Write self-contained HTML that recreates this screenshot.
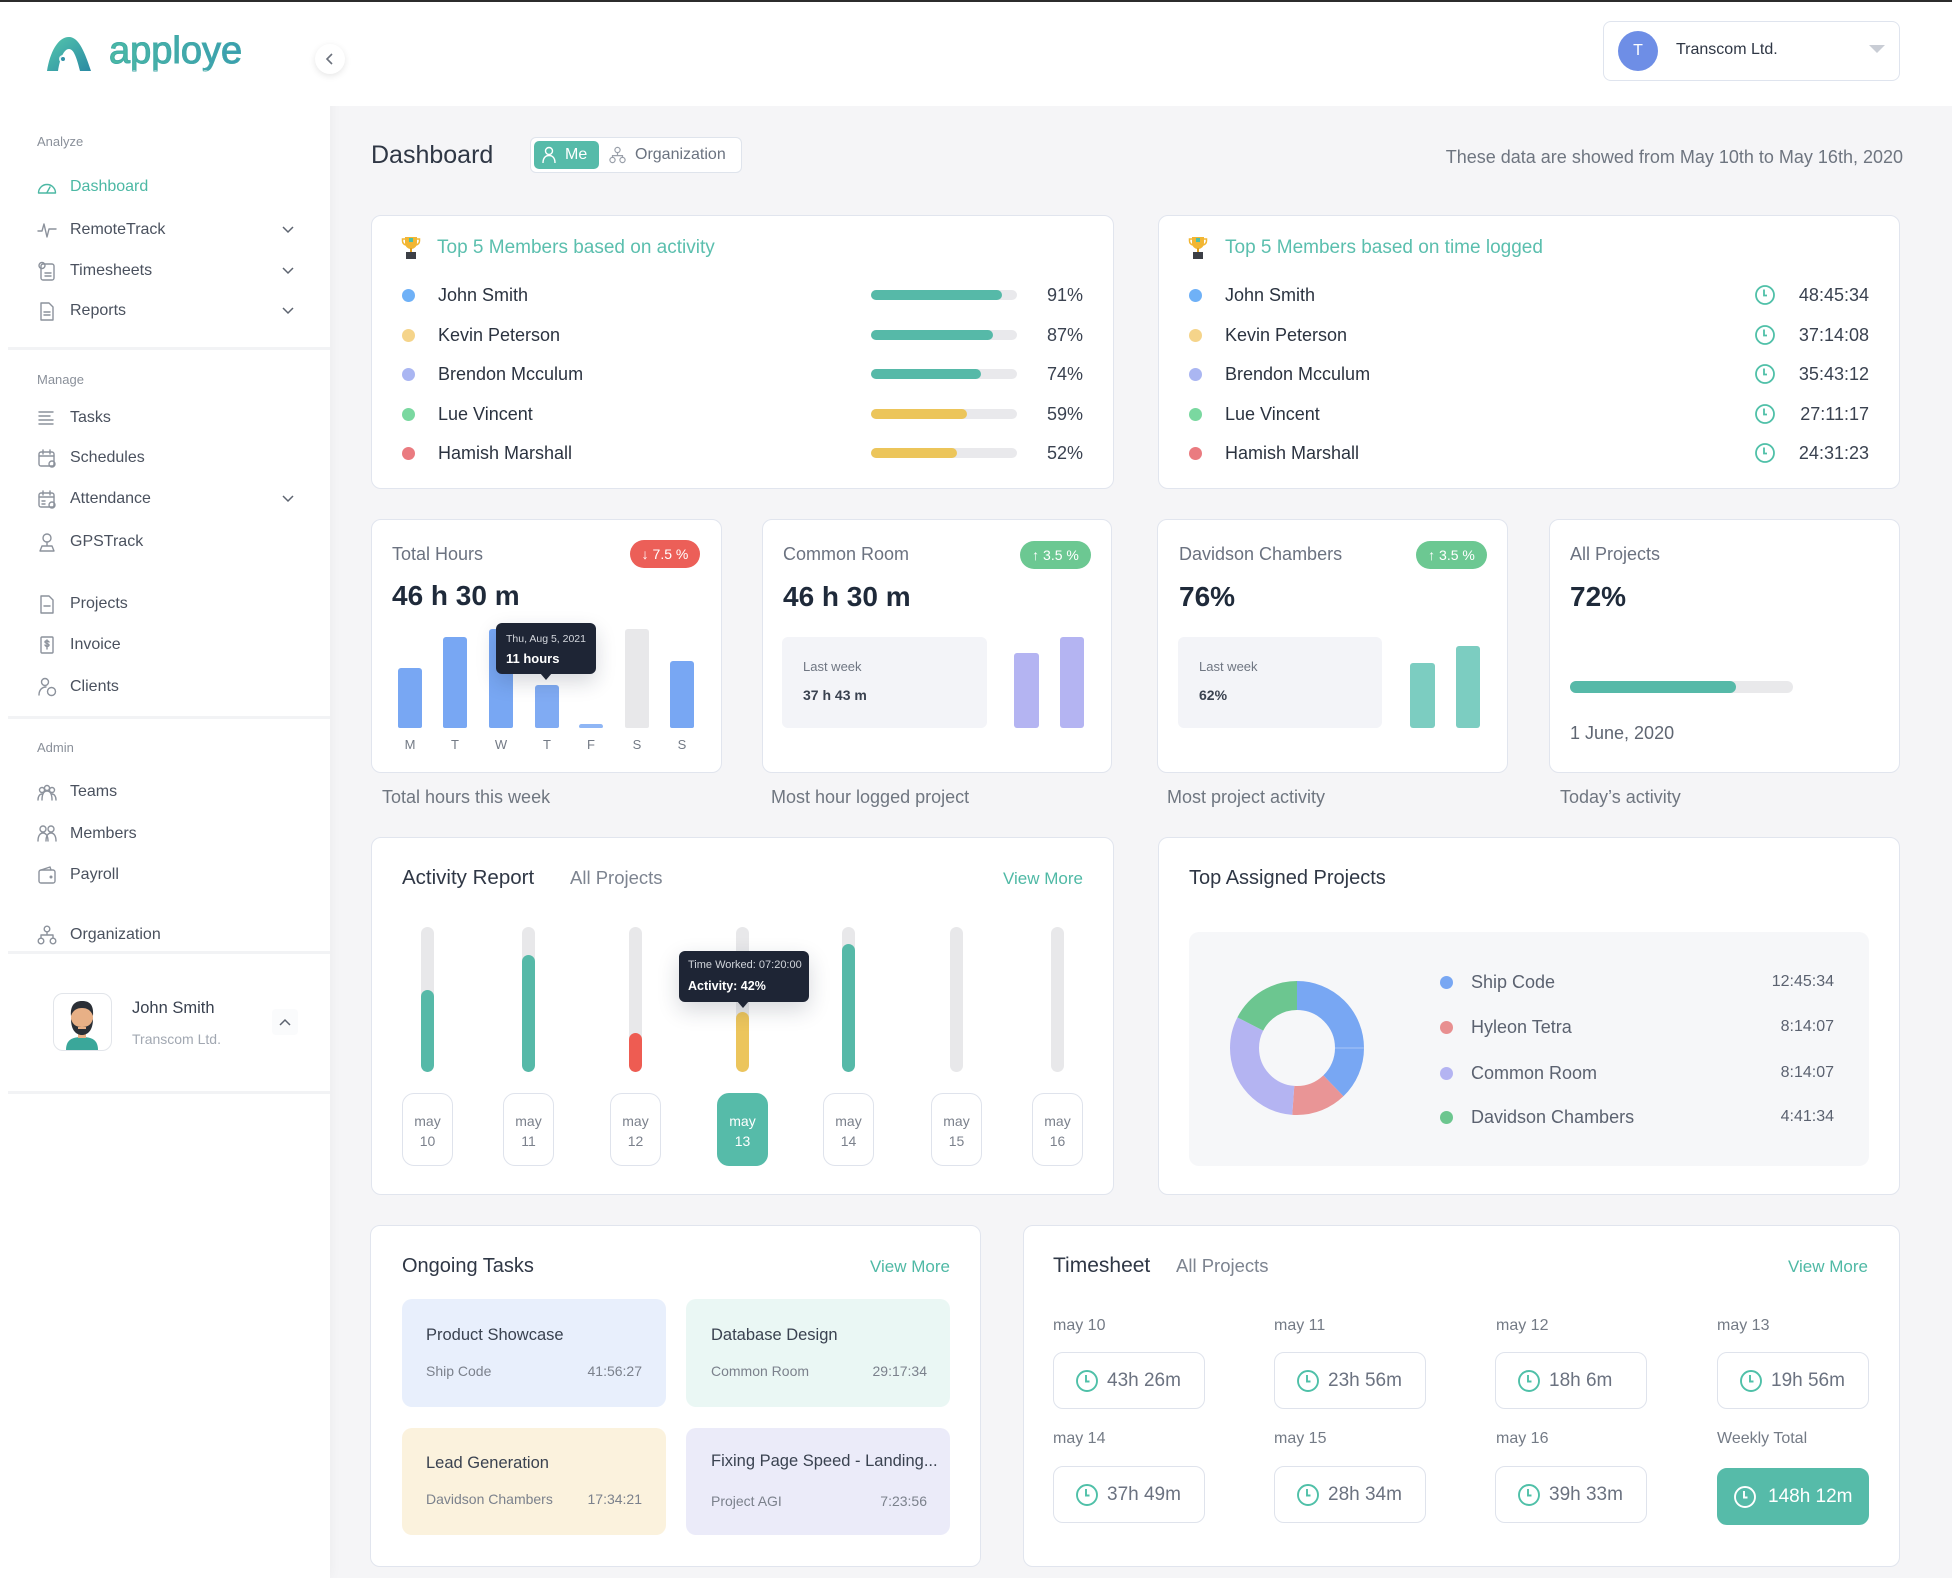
<!DOCTYPE html>
<html><head><meta charset="utf-8">
<style>
*{box-sizing:border-box}
body{margin:0;width:1952px;height:1578px;position:relative;overflow:hidden;background:#f5f5f7;font-family:"Liberation Sans",Arial,sans-serif;color:#2b3340}
.a{position:absolute}
.t{position:absolute;white-space:nowrap;line-height:1}
.card{position:absolute;background:#fff;border:1.5px solid #e1e5ee;border-radius:10px}
.si{position:absolute;left:37px;width:20px;height:20px;fill:none;stroke:#8c929c;stroke-width:1.4;stroke-linecap:round;stroke-linejoin:round}
.sl{position:absolute;left:70px;font-size:16px;line-height:1;color:#4a515e;white-space:nowrap}
.sec{position:absolute;left:37px;font-size:13px;line-height:1;color:#8a909a}
.chev{position:absolute;left:282px;width:12px;height:8px;fill:none;stroke:#5d6470;stroke-width:1.5}
.div{position:absolute;left:8px;width:322px;height:3px;background:#f2f3f5}
.dot{position:absolute;width:13px;height:13px;border-radius:50%}
.bar{position:absolute;height:10px;border-radius:5px;background:#e9e9ec;left:871px;width:146px}
.bar i{position:absolute;left:0;top:0;height:10px;border-radius:5px;background:#56b9a8}
.nm{position:absolute;font-size:18px;line-height:1;color:#2b3340;white-space:nowrap}
.pc{position:absolute;font-size:18px;line-height:1;color:#3a4250;right:869px;white-space:nowrap}
.badge{position:absolute;height:28px;border-radius:14px;color:#fff;font-size:14px;line-height:28px;text-align:center}
.ttl{position:absolute;font-size:18px;line-height:1;color:#6b7280;white-space:nowrap}
.big{position:absolute;font-size:28px;font-weight:bold;line-height:1;color:#1f2a3a;white-space:nowrap}
.cap{position:absolute;font-size:18px;line-height:1;color:#6f7680;white-space:nowrap;top:788px}
.hb{position:absolute;width:24px;border-radius:3px 3px 2px 2px;background:#78a7f3}
.dl{position:absolute;width:24px;text-align:center;font-size:13px;line-height:1;color:#737a85;top:738px}
.trk{position:absolute;width:13px;top:927px;height:145px;border-radius:7px;background:#e8e8ea;overflow:hidden}
.trk i{position:absolute;left:0;bottom:0;width:13px;border-radius:7px}
.db{position:absolute;width:51px;top:1093px;height:73px;border:1.5px solid #dfe3ec;border-radius:12px;background:#fff;text-align:center;color:#7b818c;font-size:14px;line-height:1}
.db span{position:absolute;left:0;right:0}
.vm{position:absolute;font-size:17px;line-height:1;color:#4fb9a5;white-space:nowrap}
.h2{position:absolute;font-size:20.5px;line-height:1;color:#2f3745;white-space:nowrap}
.h2g{position:absolute;font-size:18.5px;line-height:1;color:#7d8490;white-space:nowrap}
.lg{position:absolute;font-size:18px;line-height:1;color:#5b6270;white-space:nowrap;left:1471px}
.lt{position:absolute;font-size:16px;line-height:1;color:#5b6270;white-space:nowrap;right:118px}
.task{position:absolute;width:264px;border-radius:10px}
.tk1{position:absolute;font-size:16.5px;line-height:1;color:#3a4250;white-space:nowrap}
.tk2{position:absolute;font-size:14px;line-height:1;color:#7b818c;white-space:nowrap}
.tsl{position:absolute;font-size:16px;line-height:1;color:#747b86;white-space:nowrap}
.tsb{position:absolute;width:152px;height:57px;border:1.5px solid #dfe3ec;border-radius:10px;background:#fff}
.tsb svg{position:absolute;left:21px;top:16px}
.tsb span{position:absolute;left:53px;top:18px;font-size:19px;line-height:1;color:#6b7280;white-space:nowrap}
</style></head>
<body>

<!-- sidebar & header backgrounds -->
<div class="a" style="left:0;top:0;width:330px;height:1578px;background:#fff;box-shadow:2px 0 10px rgba(0,0,0,0.035)"></div>
<div class="a" style="left:330px;top:0;width:1622px;height:106px;background:#fff"></div>
<div class="a" style="left:0;top:0;width:1952px;height:2px;background:#2c2c2c"></div>

<!-- logo -->
<svg class="a" style="left:46px;top:36px" width="46" height="36" viewBox="0 0 46 36">
<defs><linearGradient id="lg1" x1="0" y1="0" x2="1" y2="1"><stop offset="0" stop-color="#55c7ad"/><stop offset="1" stop-color="#2a8aa3"/></linearGradient></defs>
<path d="M1 35 C4 16 12 1 23 1 C33 1 39 17 45 35 L34 35 C31 23 28 13 23 13 C18 13 14 22 12 35 Z" fill="url(#lg1)"/>
<circle cx="17" cy="23" r="4" fill="#fff" opacity="0.85"/>
<circle cx="17" cy="23" r="2" fill="#2f8fa6"/>
</svg>
<div class="t" style="left:109px;top:32px;font-size:38px;background:linear-gradient(90deg,#4bbba3,#3a9bb3);-webkit-background-clip:text;background-clip:text;color:transparent;-webkit-text-stroke:0.9px #42aaa8">apploye</div>

<!-- collapse -->
<div class="a" style="left:315px;top:44px;width:30px;height:30px;border-radius:50%;background:#fff;box-shadow:0 2px 7px rgba(0,0,0,0.1)"></div>
<svg class="a" style="left:325px;top:52px" width="10" height="14"><path d="M7 2 L2 7 L7 12" fill="none" stroke="#6b717c" stroke-width="1.6"/></svg>

<!-- sidebar -->
<div class="sec" style="top:135px">Analyze</div>
<svg class="si" style="top:177px;stroke:#4cb8a4" viewBox="0 0 20 20"><path d="M1.5 16 A8.5 8.5 0 0 1 18.5 16 Z"/><path d="M10 15.5 L13 10"/></svg>
<div class="sl" style="top:179px;color:#4cb8a4">Dashboard</div>
<svg class="si" style="top:220px" viewBox="0 0 20 20"><path d="M1 11 H5 L7 4 L10 17 L12 9 H19"/></svg>
<div class="sl" style="top:222px">RemoteTrack</div>
<svg class="chev" style="top:226px"><path d="M1 1 L6 6 L11 1"/></svg>
<svg class="si" style="top:261px" viewBox="0 0 20 20"><rect x="4" y="3" width="13" height="16" rx="2"/><circle cx="5" cy="4.5" r="3"/><path d="M8 12h6M8 15h6"/></svg>
<div class="sl" style="top:263px">Timesheets</div>
<svg class="chev" style="top:267px"><path d="M1 1 L6 6 L11 1"/></svg>
<svg class="si" style="top:301px" viewBox="0 0 20 20"><path d="M4 2h8l4 4v13H4z"/><path d="M7 11h6M7 14h6"/></svg>
<div class="sl" style="top:303px">Reports</div>
<svg class="chev" style="top:307px"><path d="M1 1 L6 6 L11 1"/></svg>
<div class="div" style="top:347px"></div>

<div class="sec" style="top:373px">Manage</div>
<svg class="si" style="top:408px" viewBox="0 0 20 20"><path d="M2 4h14M2 8h11M2 12h14M2 16h14"/></svg>
<div class="sl" style="top:410px">Tasks</div>
<svg class="si" style="top:448px" viewBox="0 0 20 20"><rect x="2" y="4" width="15" height="14" rx="2"/><path d="M2 8h15M6 2v4M13 2v4"/><circle cx="15" cy="16" r="3"/></svg>
<div class="sl" style="top:450px">Schedules</div>
<svg class="si" style="top:489px" viewBox="0 0 20 20"><rect x="2" y="4" width="15" height="14" rx="2"/><path d="M2 8h15M6 2v4M13 2v4M5 12h3M5 15h3"/><circle cx="15" cy="16" r="3"/></svg>
<div class="sl" style="top:491px">Attendance</div>
<svg class="chev" style="top:495px"><path d="M1 1 L6 6 L11 1"/></svg>
<svg class="si" style="top:532px" viewBox="0 0 20 20"><circle cx="10" cy="6" r="4"/><path d="M10 10v3M3 19l2-5h10l2 5z"/></svg>
<div class="sl" style="top:534px">GPSTrack</div>

<svg class="si" style="top:594px" viewBox="0 0 20 20"><path d="M4 2h8l4 4v13H4z"/><path d="M7 12h6"/></svg>
<div class="sl" style="top:596px">Projects</div>
<svg class="si" style="top:635px" viewBox="0 0 20 20"><rect x="4" y="2" width="12" height="16" rx="1"/><path d="M12 7c-1-1.5-4-1.5-4 0s4 1.5 4 3-3 2-4 0M10 5v9"/></svg>
<div class="sl" style="top:637px">Invoice</div>
<svg class="si" style="top:677px" viewBox="0 0 20 20"><circle cx="8" cy="5" r="3.5"/><path d="M2 18c0-5 3-8 7-8"/><circle cx="14.5" cy="14.5" r="4"/></svg>
<div class="sl" style="top:679px">Clients</div>
<div class="div" style="top:716px"></div>

<div class="sec" style="top:741px">Admin</div>
<svg class="si" style="top:782px" viewBox="0 0 20 20"><circle cx="5" cy="8" r="2.5"/><circle cx="10" cy="6" r="2.5"/><circle cx="15" cy="8" r="2.5"/><path d="M1 18c0-4 2-6 4-6M10 9c-3 0-5 3-5 9M10 9c3 0 5 3 5 9M19 18c0-4-2-6-4-6"/></svg>
<div class="sl" style="top:784px">Teams</div>
<svg class="si" style="top:824px" viewBox="0 0 20 20"><circle cx="6" cy="5" r="3"/><circle cx="14" cy="5" r="3"/><path d="M1 17c0-5 2-8 5-8s5 3 5 8M9 17c0-5 2-8 5-8s5 3 5 8"/></svg>
<div class="sl" style="top:826px">Members</div>
<svg class="si" style="top:865px" viewBox="0 0 20 20"><rect x="2" y="5" width="16" height="13" rx="2"/><path d="M4 5l9-3 1 3"/><circle cx="14" cy="12" r="0.8"/></svg>
<div class="sl" style="top:867px">Payroll</div>
<svg class="si" style="top:925px" viewBox="0 0 20 20"><circle cx="10" cy="4" r="2.8"/><circle cx="4" cy="16" r="2.8"/><circle cx="16" cy="16" r="2.8"/><path d="M10 7v3M4 13v-3h12v3"/></svg>
<div class="sl" style="top:927px">Organization</div>
<div class="div" style="top:951px"></div>

<!-- user card -->
<div class="a" style="left:53px;top:993px;width:59px;height:58px;border:1.5px solid #e2e5ea;border-radius:10px;background:#fff;overflow:hidden">
<svg width="56" height="56" viewBox="0 0 56 56">
<path d="M12 56 C12 46 18 43 28 43 C38 43 44 46 44 56Z" fill="#3aa79a"/>
<rect x="24" y="36" width="8" height="8" fill="#e8b086"/>
<ellipse cx="28" cy="24" rx="11" ry="13" fill="#e8b086"/>
<path d="M17 22 C16 10 22 7 28 7 C35 7 40 10 39 22 C37 16 33 14 28 14 C23 14 19 16 17 22Z" fill="#2b2f36"/>
<path d="M17 25 C17 36 22 41 28 41 C34 41 39 36 39 25 C37 31 34 33 28 33 C22 33 19 31 17 25Z" fill="#2b2f36"/>
<rect x="24" y="33" width="8" height="2" fill="#e8b086"/>
</svg></div>
<div class="t" style="left:132px;top:1000px;font-size:16.5px;color:#3a4250">John Smith</div>
<div class="t" style="left:132px;top:1032px;font-size:14px;color:#a2a8b2">Transcom Ltd.</div>
<div class="a" style="left:272px;top:1009px;width:26px;height:26px;background:#fafbfc;border-radius:4px"></div>
<svg class="a" style="left:279px;top:1018px" width="12" height="8"><path d="M1 7 L6 2 L11 7" fill="none" stroke="#5d6470" stroke-width="1.5"/></svg>
<div class="div" style="top:1091px"></div>

<!-- header right -->
<div class="a" style="left:1603px;top:21px;width:297px;height:60px;border:1.5px solid #dfe4ee;border-radius:8px;background:#fff"></div>
<div class="a" style="left:1618px;top:31px;width:40px;height:40px;border-radius:50%;background:#6e8ee6;color:#fff;font-size:16px;line-height:40px;text-align:center">T</div>
<div class="t" style="left:1676px;top:42px;font-size:16px;color:#2e3644">Transcom Ltd.</div>
<div class="a" style="left:1869px;top:45px;width:0;height:0;border-left:8.5px solid transparent;border-right:8.5px solid transparent;border-top:8px solid #c9cdd5"></div>

<!-- dashboard header -->
<div class="t" style="left:371px;top:143px;font-size:25px;color:#2f3745">Dashboard</div>
<div class="a" style="left:530px;top:137px;width:212px;height:36px;border:1.5px solid #dfe4ec;border-radius:6px;background:#fff"></div>
<div class="a" style="left:534px;top:141px;width:65px;height:28px;border-radius:5px;background:#56bba9"></div>
<svg class="a" style="left:542px;top:146px" width="14" height="18" viewBox="0 0 14 18"><circle cx="7" cy="5" r="3.5" fill="none" stroke="#fff" stroke-width="1.4"/><path d="M1 17c0-5 2.5-7.5 6-7.5s6 2.5 6 7.5" fill="none" stroke="#fff" stroke-width="1.4"/></svg>
<div class="t" style="left:565px;top:147px;font-size:16px;color:#fff">Me</div>
<svg class="a" style="left:609px;top:146px" width="17" height="18" viewBox="0 0 17 18"><circle cx="8.5" cy="4" r="2.6" fill="none" stroke="#9aa0aa" stroke-width="1.2"/><circle cx="3.5" cy="14" r="2.6" fill="none" stroke="#9aa0aa" stroke-width="1.2"/><circle cx="13.5" cy="14" r="2.6" fill="none" stroke="#9aa0aa" stroke-width="1.2"/><path d="M8.5 6.6v3M3.5 11.4V9.6h10v1.8" fill="none" stroke="#9aa0aa" stroke-width="1.2"/></svg>
<div class="t" style="left:635px;top:147px;font-size:16px;color:#6b7380">Organization</div>
<div class="t" style="right:49px;top:148px;font-size:18px;color:#6e7580">These data are showed from May 10th to May 16th, 2020</div>

<!-- card 1 -->
<div class="card" style="left:371px;top:215px;width:743px;height:274px"></div>
<svg class="a" style="left:401px;top:236px" width="20" height="24" viewBox="0 0 20 24"><path d="M4 1h12v6a6 6 0 0 1-12 0z" fill="#f2b632"/><path d="M4 3H1.5v2a4 4 0 0 0 4 4M16 3h2.5v2a4 4 0 0 1-4 4" stroke="#f2b632" fill="none" stroke-width="1.5"/><rect x="9" y="12" width="2" height="4" fill="#e0a020"/><rect x="5" y="16" width="10" height="7" fill="#3c3f46"/><rect x="8" y="2" width="4" height="4" fill="#4fbfa5"/></svg>
<div class="t" style="left:437px;top:238px;font-size:19px;color:#5bbfae">Top 5 Members based on activity</div>

<div class="dot" style="left:402px;top:289px;background:#6fb1f7"></div>
<div class="nm" style="left:438px;top:286px">John Smith</div>
<div class="bar" style="top:290px"><i style="width:131px"></i></div>
<div class="pc" style="top:286px">91%</div>

<div class="dot" style="left:402px;top:329px;background:#f5d48a"></div>
<div class="nm" style="left:438px;top:326px">Kevin Peterson</div>
<div class="bar" style="top:330px"><i style="width:122px"></i></div>
<div class="pc" style="top:326px">87%</div>

<div class="dot" style="left:402px;top:368px;background:#aab6f2"></div>
<div class="nm" style="left:438px;top:365px">Brendon Mcculum</div>
<div class="bar" style="top:369px"><i style="width:110px"></i></div>
<div class="pc" style="top:365px">74%</div>

<div class="dot" style="left:402px;top:408px;background:#7ad8a0"></div>
<div class="nm" style="left:438px;top:405px">Lue Vincent</div>
<div class="bar" style="top:409px"><i style="width:96px;background:#ecc55a"></i></div>
<div class="pc" style="top:405px">59%</div>

<div class="dot" style="left:402px;top:447px;background:#ea7b80"></div>
<div class="nm" style="left:438px;top:444px">Hamish Marshall</div>
<div class="bar" style="top:448px"><i style="width:86px;background:#ecc55a"></i></div>
<div class="pc" style="top:444px">52%</div>

<!-- card 2 -->
<div class="card" style="left:1158px;top:215px;width:742px;height:274px"></div>
<svg class="a" style="left:1188px;top:236px" width="20" height="24" viewBox="0 0 20 24"><path d="M4 1h12v6a6 6 0 0 1-12 0z" fill="#f2b632"/><path d="M4 3H1.5v2a4 4 0 0 0 4 4M16 3h2.5v2a4 4 0 0 1-4 4" stroke="#f2b632" fill="none" stroke-width="1.5"/><rect x="9" y="12" width="2" height="4" fill="#e0a020"/><rect x="5" y="16" width="10" height="7" fill="#3c3f46"/><rect x="8" y="2" width="4" height="4" fill="#4fbfa5"/></svg>
<div class="t" style="left:1225px;top:238px;font-size:19px;color:#5bbfae">Top 5 Members based on time logged</div>

<div class="dot" style="left:1189px;top:289px;background:#6fb1f7"></div>
<div class="nm" style="left:1225px;top:286px">John Smith</div>
<div class="dot" style="left:1189px;top:329px;background:#f5d48a"></div>
<div class="nm" style="left:1225px;top:326px">Kevin Peterson</div>
<div class="dot" style="left:1189px;top:368px;background:#aab6f2"></div>
<div class="nm" style="left:1225px;top:365px">Brendon Mcculum</div>
<div class="dot" style="left:1189px;top:408px;background:#7ad8a0"></div>
<div class="nm" style="left:1225px;top:405px">Lue Vincent</div>
<div class="dot" style="left:1189px;top:447px;background:#ea7b80"></div>
<div class="nm" style="left:1225px;top:444px">Hamish Marshall</div>

<svg class="a" style="left:1754px;top:284px" width="22" height="180" viewBox="0 0 22 180" fill="none" stroke="#4fc0a8" stroke-width="1.8">
<circle cx="11" cy="11" r="9"/><path d="M10 5.5V11.5H13"/>
<circle cx="11" cy="51" r="9"/><path d="M10 45.5V51.5H13"/>
<circle cx="11" cy="90" r="9"/><path d="M10 84.5V90.5H13"/>
<circle cx="11" cy="130" r="9"/><path d="M10 124.5V130.5H13"/>
<circle cx="11" cy="169" r="9"/><path d="M10 163.5V169.5H13"/>
</svg>
<div class="nm" style="right:83px;top:286px;color:#3a4250">48:45:34</div>
<div class="nm" style="right:83px;top:326px;color:#3a4250">37:14:08</div>
<div class="nm" style="right:83px;top:365px;color:#3a4250">35:43:12</div>
<div class="nm" style="right:83px;top:405px;color:#3a4250">27:11:17</div>
<div class="nm" style="right:83px;top:444px;color:#3a4250">24:31:23</div>

<!-- row 2 -->
<div class="card" style="left:371px;top:519px;width:351px;height:254px"></div>
<div class="ttl" style="left:392px;top:545px">Total Hours</div>
<div class="badge" style="left:630px;top:540px;width:70px;background:#ec5f58">↓ 7.5 %</div>
<div class="big" style="left:392px;top:582px">46 h 30 m</div>
<div class="hb" style="left:398px;top:668px;height:60px"></div>
<div class="hb" style="left:443px;top:637px;height:91px"></div>
<div class="hb" style="left:489px;top:629px;height:99px"></div>
<div class="hb" style="left:535px;top:685px;height:43px;background:#80abf3"></div>
<div class="hb" style="left:579px;top:724px;height:4px;background:#8fb6f5"></div>
<div class="hb" style="left:625px;top:629px;height:99px;background:#e8e8ea"></div>
<div class="hb" style="left:670px;top:661px;height:67px"></div>
<div class="dl" style="left:398px">M</div>
<div class="dl" style="left:443px">T</div>
<div class="dl" style="left:489px">W</div>
<div class="dl" style="left:535px">T</div>
<div class="dl" style="left:579px">F</div>
<div class="dl" style="left:625px">S</div>
<div class="dl" style="left:670px">S</div>
<div class="a" style="left:496px;top:623px;width:100px;height:51px;background:#1e2535;border-radius:6px;box-shadow:0 8px 20px rgba(30,40,60,0.18)"></div>
<div class="a" style="left:540px;top:673px;width:0;height:0;border-left:6px solid transparent;border-right:6px solid transparent;border-top:7px solid #1e2535"></div>
<div class="t" style="left:506px;top:634px;font-size:10.5px;color:#d5d8de">Thu, Aug 5, 2021</div>
<div class="t" style="left:506px;top:652px;font-size:13px;font-weight:bold;color:#fff">11 hours</div>

<div class="card" style="left:762px;top:519px;width:350px;height:254px"></div>
<div class="ttl" style="left:783px;top:545px">Common Room</div>
<div class="badge" style="left:1020px;top:541px;width:71px;background:#6cc892">↑ 3.5 %</div>
<div class="big" style="left:783px;top:583px">46 h 30 m</div>
<div class="a" style="left:782px;top:637px;width:205px;height:91px;background:#f3f4f8;border-radius:6px"></div>
<div class="t" style="left:803px;top:660px;font-size:13px;color:#6f7682">Last week</div>
<div class="t" style="left:803px;top:688px;font-size:14px;font-weight:bold;color:#3a4250">37 h 43 m</div>
<div class="a" style="left:1014px;top:653px;width:25px;height:75px;background:#b4b4f2;border-radius:3px"></div>
<div class="a" style="left:1060px;top:637px;width:24px;height:91px;background:#b4b4f2;border-radius:3px"></div>

<div class="card" style="left:1157px;top:519px;width:351px;height:254px"></div>
<div class="ttl" style="left:1179px;top:545px">Davidson Chambers</div>
<div class="badge" style="left:1416px;top:541px;width:71px;background:#6cc892">↑ 3.5 %</div>
<div class="big" style="left:1179px;top:583px">76%</div>
<div class="a" style="left:1178px;top:637px;width:204px;height:91px;background:#f3f4f8;border-radius:6px"></div>
<div class="t" style="left:1199px;top:660px;font-size:13px;color:#6f7682">Last week</div>
<div class="t" style="left:1199px;top:688px;font-size:14px;font-weight:bold;color:#3a4250">62%</div>
<div class="a" style="left:1410px;top:663px;width:25px;height:65px;background:#7ccdc1;border-radius:3px"></div>
<div class="a" style="left:1456px;top:646px;width:24px;height:82px;background:#7ccdc1;border-radius:3px"></div>

<div class="card" style="left:1549px;top:519px;width:351px;height:254px"></div>
<div class="ttl" style="left:1570px;top:545px">All Projects</div>
<div class="big" style="left:1570px;top:583px">72%</div>
<div class="a" style="left:1570px;top:681px;width:223px;height:12px;background:#e9e9eb;border-radius:6px"></div>
<div class="a" style="left:1570px;top:681px;width:166px;height:12px;background:#56b9a8;border-radius:6px"></div>
<div class="t" style="left:1570px;top:724px;font-size:18px;color:#5f6672">1 June, 2020</div>

<div class="cap" style="left:382px">Total hours this week</div>
<div class="cap" style="left:771px">Most hour logged project</div>
<div class="cap" style="left:1167px">Most project activity</div>
<div class="cap" style="left:1560px">Today’s activity</div>

<!-- activity report -->
<div class="card" style="left:371px;top:837px;width:743px;height:358px"></div>
<div class="h2" style="left:402px;top:868px">Activity Report</div>
<div class="h2g" style="left:570px;top:869px">All Projects</div>
<div class="vm" style="right:869px;top:870px">View More</div>

<div class="trk" style="left:421px"><i style="height:82px;background:#56b9a8"></i></div>
<div class="trk" style="left:522px"><i style="height:117px;background:#56b9a8"></i></div>
<div class="trk" style="left:629px"><i style="height:39px;background:#ee5c52"></i></div>
<div class="trk" style="left:736px"><i style="height:60px;background:#ecc55c"></i></div>
<div class="trk" style="left:842px"><i style="height:128px;background:#56b9a8"></i></div>
<div class="trk" style="left:950px"></div>
<div class="trk" style="left:1051px"></div>

<div class="db" style="left:402px"><span style="top:20px">may</span><span style="top:40px">10</span></div>
<div class="db" style="left:503px"><span style="top:20px">may</span><span style="top:40px">11</span></div>
<div class="db" style="left:610px"><span style="top:20px">may</span><span style="top:40px">12</span></div>
<div class="db" style="left:717px;background:#56bba9;border-color:#56bba9;color:#fff"><span style="top:20px">may</span><span style="top:40px">13</span></div>
<div class="db" style="left:823px"><span style="top:20px">may</span><span style="top:40px">14</span></div>
<div class="db" style="left:931px"><span style="top:20px">may</span><span style="top:40px">15</span></div>
<div class="db" style="left:1032px"><span style="top:20px">may</span><span style="top:40px">16</span></div>

<div class="a" style="left:679px;top:951px;width:130px;height:51px;background:#1e2535;border-radius:6px;box-shadow:0 8px 22px rgba(30,40,60,0.18)"></div>
<div class="a" style="left:737px;top:1001px;width:0;height:0;border-left:6px solid transparent;border-right:6px solid transparent;border-top:7px solid #1e2535"></div>
<div class="t" style="left:688px;top:960px;font-size:11px;color:#d0d4da">Time Worked: 07:20:00</div>
<div class="t" style="left:688px;top:980px;font-size:12.5px;font-weight:bold;color:#fff">Activity: 42%</div>

<!-- top assigned -->
<div class="card" style="left:1158px;top:837px;width:742px;height:358px"></div>
<div class="h2" style="left:1189px;top:868px;font-size:20px">Top Assigned Projects</div>
<div class="a" style="left:1189px;top:932px;width:680px;height:234px;background:#f6f7f9;border-radius:10px"></div>
<svg class="a" style="left:1227px;top:978px" width="140" height="140" viewBox="-70 -70 140 140">
<g transform="rotate(-90)" fill="none" stroke-width="29">
<circle r="52.5" stroke="#78a7f3" stroke-dasharray="124.6 400" stroke-dashoffset="0"/>
<circle r="52.5" stroke="#e99596" stroke-dasharray="44 400" stroke-dashoffset="-124.6"/>
<circle r="52.5" stroke="#b4b4f2" stroke-dasharray="103.5 400" stroke-dashoffset="-168.6"/>
<circle r="52.5" stroke="#6cc690" stroke-dasharray="57.8 400" stroke-dashoffset="-272.1"/>
</g>
<line x1="38" y1="0" x2="67" y2="0" stroke="#fff" stroke-opacity="0.35" stroke-width="1"/>
</svg>
<div class="dot" style="left:1440px;top:976px;background:#78a7f3"></div>
<div class="lg" style="top:973px">Ship Code</div>
<div class="lt" style="top:974px">12:45:34</div>
<div class="dot" style="left:1440px;top:1021px;background:#e88f90"></div>
<div class="lg" style="top:1018px">Hyleon Tetra</div>
<div class="lt" style="top:1019px">8:14:07</div>
<div class="dot" style="left:1440px;top:1067px;background:#b4b4f2"></div>
<div class="lg" style="top:1064px">Common Room</div>
<div class="lt" style="top:1065px">8:14:07</div>
<div class="dot" style="left:1440px;top:1111px;background:#6cc68f"></div>
<div class="lg" style="top:1108px">Davidson Chambers</div>
<div class="lt" style="top:1109px">4:41:34</div>

<!-- ongoing tasks -->
<div class="card" style="left:370px;top:1225px;width:611px;height:342px"></div>
<div class="h2" style="left:402px;top:1256px;font-size:20px">Ongoing Tasks</div>
<div class="vm" style="right:1002px;top:1258px">View More</div>

<div class="task" style="left:402px;top:1299px;height:108px;background:#e8effc"></div>
<div class="tk1" style="left:426px;top:1327px">Product Showcase</div>
<div class="tk2" style="left:426px;top:1364px">Ship Code</div>
<div class="tk2" style="right:1310px;top:1364px">41:56:27</div>

<div class="task" style="left:686px;top:1299px;height:108px;background:#eaf7f4"></div>
<div class="tk1" style="left:711px;top:1327px">Database Design</div>
<div class="tk2" style="left:711px;top:1364px">Common Room</div>
<div class="tk2" style="right:1025px;top:1364px">29:17:34</div>

<div class="task" style="left:402px;top:1428px;height:107px;background:#fbf2dd"></div>
<div class="tk1" style="left:426px;top:1455px">Lead Generation</div>
<div class="tk2" style="left:426px;top:1492px">Davidson Chambers</div>
<div class="tk2" style="right:1310px;top:1492px">17:34:21</div>

<div class="task" style="left:686px;top:1428px;height:107px;background:#ebebf9"></div>
<div class="tk1" style="left:711px;top:1453px">Fixing Page Speed - Landing...</div>
<div class="tk2" style="left:711px;top:1494px">Project AGI</div>
<div class="tk2" style="right:1025px;top:1494px">7:23:56</div>

<!-- timesheet -->
<div class="card" style="left:1023px;top:1225px;width:877px;height:342px"></div>
<div class="h2" style="left:1053px;top:1255px;font-size:21px">Timesheet</div>
<div class="h2g" style="left:1176px;top:1257px">All Projects</div>
<div class="vm" style="right:84px;top:1258px">View More</div>

<div class="tsl" style="left:1053px;top:1318px">may 10</div>
<div class="tsl" style="left:1274px;top:1318px">may 11</div>
<div class="tsl" style="left:1496px;top:1318px">may 12</div>
<div class="tsl" style="left:1717px;top:1318px">may 13</div>
<div class="tsl" style="left:1053px;top:1431px">may 14</div>
<div class="tsl" style="left:1274px;top:1431px">may 15</div>
<div class="tsl" style="left:1496px;top:1431px">may 16</div>
<div class="tsl" style="left:1717px;top:1431px">Weekly Total</div>

<div class="tsb" style="left:1053px;top:1352px"><svg width="24" height="24" viewBox="0 0 24 24" fill="none" stroke="#4fc0a8" stroke-width="1.9"><circle cx="12" cy="12" r="10"/><path d="M11 6V12.5H14.5"/></svg><span>43h 26m</span></div>
<div class="tsb" style="left:1274px;top:1352px"><svg width="24" height="24" viewBox="0 0 24 24" fill="none" stroke="#4fc0a8" stroke-width="1.9"><circle cx="12" cy="12" r="10"/><path d="M11 6V12.5H14.5"/></svg><span>23h 56m</span></div>
<div class="tsb" style="left:1495px;top:1352px"><svg width="24" height="24" viewBox="0 0 24 24" fill="none" stroke="#4fc0a8" stroke-width="1.9"><circle cx="12" cy="12" r="10"/><path d="M11 6V12.5H14.5"/></svg><span>18h 6m</span></div>
<div class="tsb" style="left:1717px;top:1352px"><svg width="24" height="24" viewBox="0 0 24 24" fill="none" stroke="#4fc0a8" stroke-width="1.9"><circle cx="12" cy="12" r="10"/><path d="M11 6V12.5H14.5"/></svg><span>19h 56m</span></div>
<div class="tsb" style="left:1053px;top:1466px"><svg width="24" height="24" viewBox="0 0 24 24" fill="none" stroke="#4fc0a8" stroke-width="1.9"><circle cx="12" cy="12" r="10"/><path d="M11 6V12.5H14.5"/></svg><span>37h 49m</span></div>
<div class="tsb" style="left:1274px;top:1466px"><svg width="24" height="24" viewBox="0 0 24 24" fill="none" stroke="#4fc0a8" stroke-width="1.9"><circle cx="12" cy="12" r="10"/><path d="M11 6V12.5H14.5"/></svg><span>28h 34m</span></div>
<div class="tsb" style="left:1495px;top:1466px"><svg width="24" height="24" viewBox="0 0 24 24" fill="none" stroke="#4fc0a8" stroke-width="1.9"><circle cx="12" cy="12" r="10"/><path d="M11 6V12.5H14.5"/></svg><span>39h 33m</span></div>
<div class="tsb" style="left:1717px;top:1468px;background:#56bba9;border-color:#56bba9"><svg width="24" height="24" viewBox="0 0 24 24" fill="none" stroke="#fff" stroke-width="1.9" style="left:15px"><circle cx="12" cy="12" r="10"/><path d="M11 6V12.5H14.5"/></svg><span style="left:50px;color:#fff">148h 12m</span></div>

</body></html>
